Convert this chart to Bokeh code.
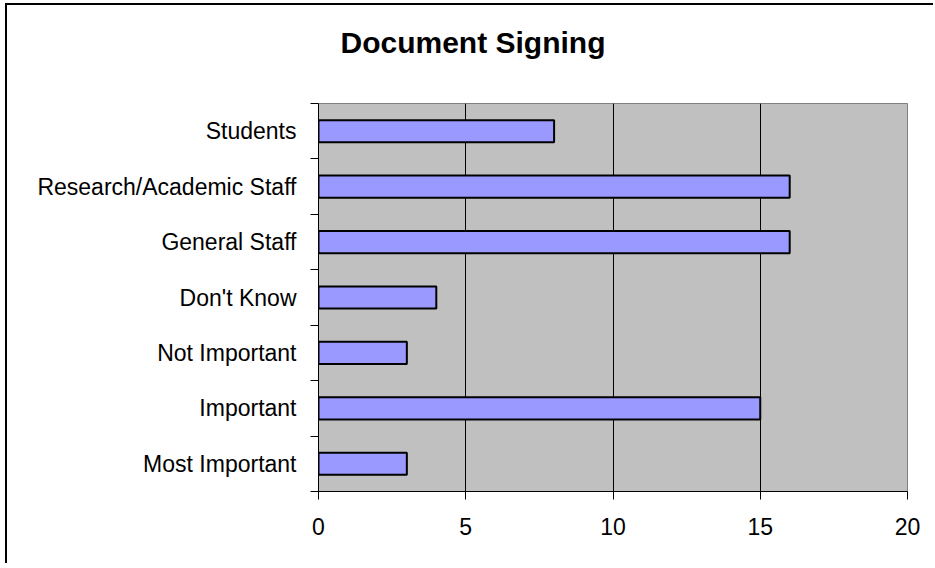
from bokeh.plotting import figure
from bokeh.models import FixedTicker, Range1d, Title
from bokeh.embed import file_html
from bokeh.resources import INLINE

# Survey responses, listed bottom to top
categories = ["Most Important", "Important", "Not Important", "Don't Know",
              "General Staff", "Research/Academic Staff", "Students"]
counts = [3, 15, 3, 4, 16, 16, 8]
x_ticks = [0, 5, 10, 15, 20]
grid_ticks = [5, 10, 15]
chart_title = "Document Signing"

centers = [i + 0.5 for i in range(len(categories))]
boundaries = list(range(len(categories) + 1))

FONT = "Liberation Sans"

p = figure(width=928, height=560, title=None,
           x_range=Range1d(0, 20), y_range=Range1d(0, len(categories)),
           output_backend="svg", toolbar_location=None,
           min_border_left=311, min_border_right=28,
           min_border_top=98, min_border_bottom=74)

# outer frame (top and left edges)
p.styles = {"border-top": "2px solid black", "border-left": "2px solid black",
            "margin-top": "3px", "margin-left": "5px"}

p.background_fill_color = "#C0C0C0"
p.border_fill_color = "white"
p.outline_line_color = "#808080"
p.outline_line_width = 1

p.hbar(y=centers, right=counts, left=0, height=0.4,
       fill_color="#9999FF", line_color="black", line_width=2)

# blank band between the plot area and the title
p.add_layout(Title(text=" ", text_font=FONT, text_font_size="10px",
                   standoff=32), "above")
# title
p.add_layout(Title(text=chart_title, text_font=FONT, text_font_size="30px",
                   text_font_style="bold", text_color="black",
                   align="left", offset=22, vertical_align="bottom",
                   standoff=0), "above")

# x axis
p.xaxis.ticker = FixedTicker(ticks=x_ticks)
p.xaxis.major_tick_out = 8
p.xaxis.major_tick_in = 0
p.xaxis.minor_tick_out = 0
p.xaxis.minor_tick_in = 0
p.xaxis.axis_line_color = "black"
p.xaxis.axis_line_width = 1
p.xaxis.major_tick_line_color = "black"
p.xaxis.major_label_text_font = FONT
p.xaxis.major_label_text_font_size = "23px"
p.xaxis.major_label_text_color = "black"
p.xaxis.major_label_standoff = 18

# y axis: labels at band centres, tick marks at band boundaries
p.yaxis.ticker = FixedTicker(ticks=centers, minor_ticks=boundaries)
p.yaxis.major_label_overrides = {c: name for c, name in zip(centers, categories)}
p.yaxis.major_tick_out = 0
p.yaxis.major_tick_in = 0
p.yaxis.minor_tick_out = 8
p.yaxis.minor_tick_in = 0
p.yaxis.minor_tick_line_color = "black"
p.yaxis.axis_line_color = "black"
p.yaxis.axis_line_width = 1
p.yaxis.major_label_text_font = FONT
p.yaxis.major_label_text_font_size = "23px"
p.yaxis.major_label_text_color = "black"
p.yaxis.major_label_standoff = 14

# grid
p.xgrid.ticker = FixedTicker(ticks=grid_ticks)
p.xgrid.grid_line_color = "black"
p.xgrid.grid_line_width = 1
p.ygrid.grid_line_color = None

open("out.html", "w").write(file_html(p, INLINE))
